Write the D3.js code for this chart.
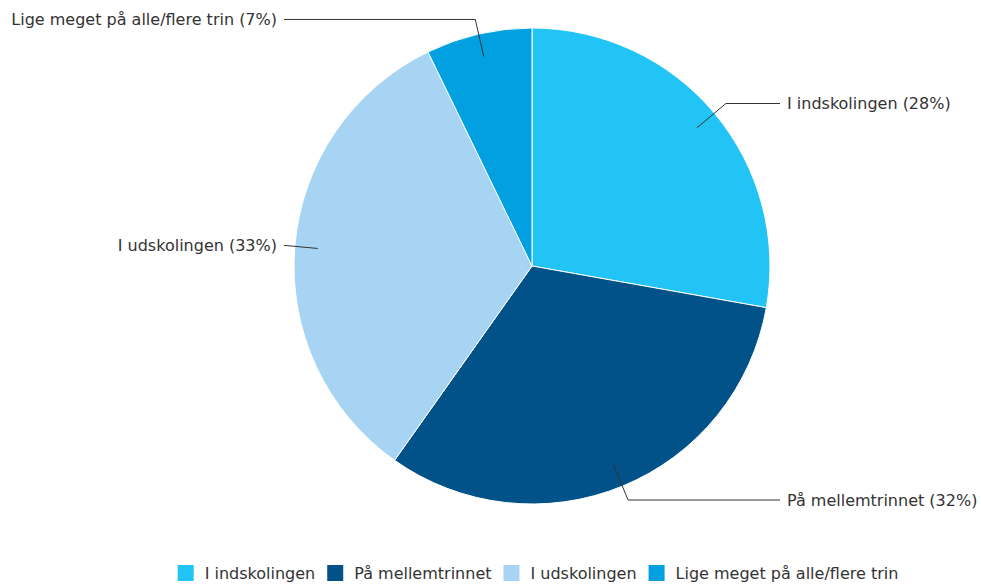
<!DOCTYPE html>
<html><head><meta charset="utf-8">
<script src="https://cdn.jsdelivr.net/npm/d3@7"></script>
<style>
html,body{margin:0;padding:0;background:#fff;}
svg text{font-family:"DejaVu Sans",Verdana,sans-serif;}
</style></head>
<body>
<svg id="chart" width="981" height="585"></svg>
<script>
const categories = ["I indskolingen", "På mellemtrinnet", "I udskolingen", "Lige meget på alle/flere trin"];
const values = [27.8, 32.0, 33.0, 7.2];
const colors = ["#22c4f5", "#005288", "#a8d4f4", "#00a0e1"];

const svg = d3.select("#chart");
const cx = 532, cy = 266, r = 238;
const data = categories.map((c, i) => ({name: c, value: values[i], color: colors[i]}));
const pie = d3.pie().value(d => d.value).sort(null);
const arcs = pie(data);
const arc = d3.arc().innerRadius(0).outerRadius(r);
const g = svg.append("g").attr("transform", `translate(${cx},${cy})`);

g.selectAll("path.slice").data(arcs).enter().append("path")
  .attr("class", "slice")
  .attr("d", arc)
  .attr("fill", d => d.data.color)
  .attr("stroke", "#fff").attr("stroke-width", 1).attr("stroke-linejoin", "round");

const total = d3.sum(values);
arcs.forEach(a => {
  const mid = (a.startAngle + a.endAngle) / 2;
  const sx = Math.sin(mid), sy = -Math.cos(mid);
  const right = sx >= 0;
  const inner = [sx * (r - 23), sy * (r - 23)];
  const ly = sy * (r + 15);
  let ex = sx * (r + 15);
  const endX = right ? r + 10 : -(r + 10);
  if (right) ex = Math.min(ex, endX); else ex = Math.max(ex, endX);
  g.append("polyline")
    .attr("points", [inner, [ex, ly], [endX, ly]].map(p => p.join(",")).join(" "))
    .attr("fill", "none").attr("stroke", "#333").attr("stroke-width", 1);
  g.append("text")
    .attr("x", right ? r + 17 : -(r + 17))
    .attr("y", ly)
    .attr("dy", "0.35em")
    .attr("text-anchor", right ? "start" : "end")
    .attr("font-size", 16)
    .attr("fill", "#333")
    .text(`${a.data.name} (${Math.round(a.data.value / total * 100)}%)`);
});

// Legend
const legend = svg.append("g");
let x = 0;
const items = [];
data.forEach((d, i) => {
  const it = legend.append("g");
  it.append("rect").attr("x", 0).attr("y", -8).attr("width", 16).attr("height", 16).attr("fill", d.color);
  const t = it.append("text").attr("x", 27).attr("y", 0).attr("dy", "0.35em")
    .attr("font-size", 16).attr("fill", "#333").text(d.name);
  const w = 27 + t.node().getComputedTextLength();
  items.push({it, x});
  x += w + 12;
});
const totalW = x - 12;
const startX = cx + 6 - totalW / 2;
items.forEach(o => o.it.attr("transform", `translate(${startX + o.x},573)`));
</script>
</body></html>
